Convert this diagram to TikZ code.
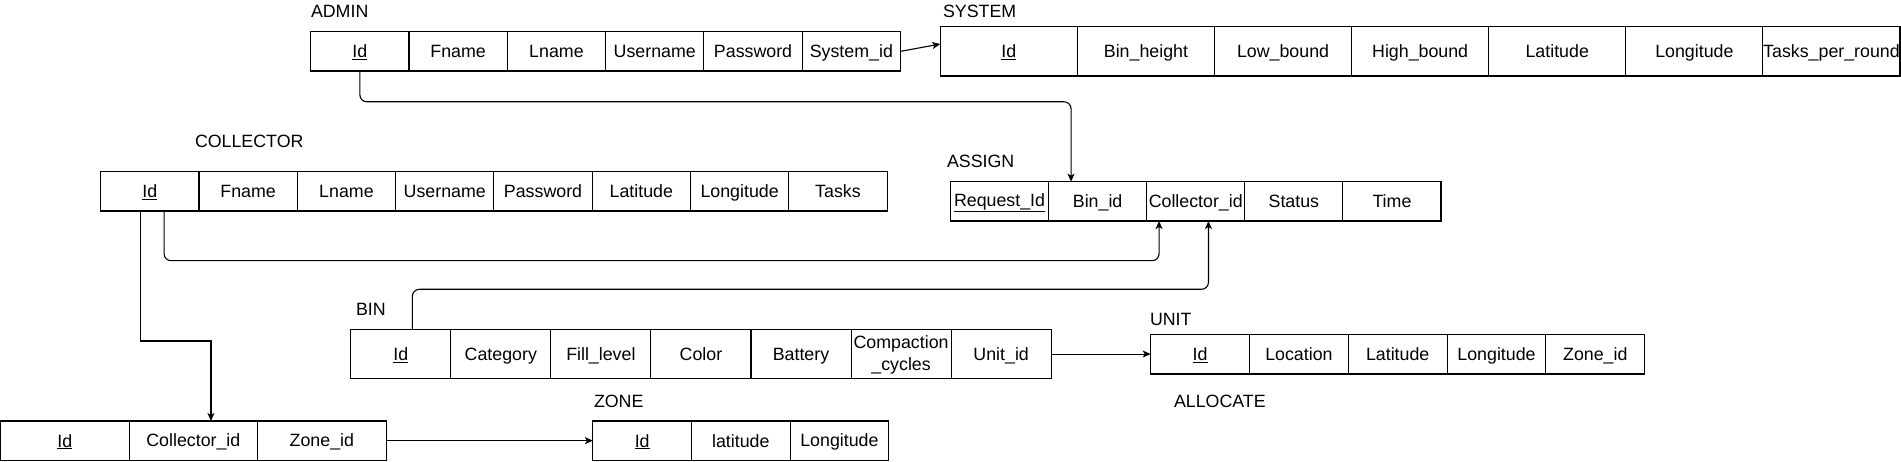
\documentclass[tikz,border=0pt]{standalone}
\usepackage{fontspec}
\setmainfont{Liberation Sans}
\usetikzlibrary{arrows.meta}
\newcommand{\erfont}{\fontsize{17.8}{22}\selectfont}
\newcommand{\cstrut}{\vrule height 16pt depth 3.3pt width 0pt}
\newcommand{\lstrut}{\vrule height 0pt depth 6pt width 0pt}
\tikzset{
  erbox/.style={draw, line width=1.1pt, inner sep=0pt, outer sep=0pt, anchor=north west, font=\erfont, align=center},
  erlabel/.style={inner sep=0pt, outer sep=0pt, anchor=west, font=\erfont},
  fk/.style={line width=1.1pt, -{Stealth[length=8pt,width=7pt,inset=2pt]}},
  fkr/.style={fk, rounded corners=7pt},
}
\newcommand{\ertable}[6]{%
  \foreach \t [count=\i] in {#6} {
    \node[erbox, minimum width=#4pt, minimum height=#5pt] (#1\i) at ({#2+(\i-1)*#4}, #3) {\cstrut\t};
  }%
}
\begin{document}
\begin{tikzpicture}[x=1pt, y=-1pt]
\fill[white] (0,0) rectangle (1901,462);
\useasboundingbox (0,0) rectangle (1901,462);

% labels
\node[erlabel] (ladmin) at (311,11) {ADMIN};
\node[erlabel] (lsystem) at (943,11) {SYSTEM};
\node[erlabel] (lcollector) at (195,141) {COLLECTOR};
\node[erlabel] (lassign) at (947,161) {ASSIGN};
\node[erlabel] (lbin) at (356,309) {BIN};
\node[erlabel] (lunit) at (1150,319) {UNIT};
\node[erlabel] (lallocate) at (1174,401) {ALLOCATE};
\node[erlabel] (lzone) at (594,401) {ZONE};

% tables
\ertable{admin}{310.7}{31.7}{98.3}{39.3}{{\underline{Id}},Fname,Lname,Username,Password,System\_id}
\ertable{system}{940.3}{26.7}{137.1}{49.3}{{\underline{Id}},Bin\_height,Low\_bound,High\_bound,Latitude,Longitude,Tasks\_per\_round}
\ertable{collector}{100.7}{171.7}{98.3}{39.3}{{\underline{Id}},Fname,Lname,Username,Password,Latitude,Longitude,Tasks}
\ertable{assign}{950.5}{181.7}{98.1}{39.3}{{\underline{Request\_Id}},Bin\_id,Collector\_id,Status,Time}
\ertable{bin}{350.7}{329.3}{100.07}{49.5}{{\underline{Id}},Category,Fill\_level,Color,Battery,{Compaction\\\lstrut\_cycles},Unit\_id}
\ertable{unit}{1150.7}{334.5}{98.8}{39.5}{{\underline{Id}},Location,Latitude,Longitude,Zone\_id}
\ertable{allocate}{0.6}{421}{128.5}{39.3}{{\underline{Id}},Collector\_id,Zone\_id}
\ertable{zone}{592.9}{421}{98.6}{39.3}{{\underline{Id}},latitude,Longitude}

% connectors
\draw[fk] (admin6.east) -- ([yshift=7.3pt]system1.west);
\draw[fkr] (admin1.south) -- ++(0,30.8) -| ([xshift=-26.6pt]assign2.north);
\draw[fkr] ([xshift=14.2pt]collector1.south) -- ++(0,49.7) -| ([xshift=-36.7pt]assign3.south);
\draw[fkr] ([xshift=11.6pt]bin1.north) -- ++(0,-40) -| ([xshift=12.7pt]assign3.south);
\draw[fk] ([xshift=-9.5pt]collector1.south) -- ++(0,130) -| ([xshift=17.6pt]allocate2.north);
\draw[fk] (bin7.east) -- (unit1.west |- bin7.east);
\draw[fk] (allocate3.east) -- (zone1.west);
\end{tikzpicture}
\end{document}
